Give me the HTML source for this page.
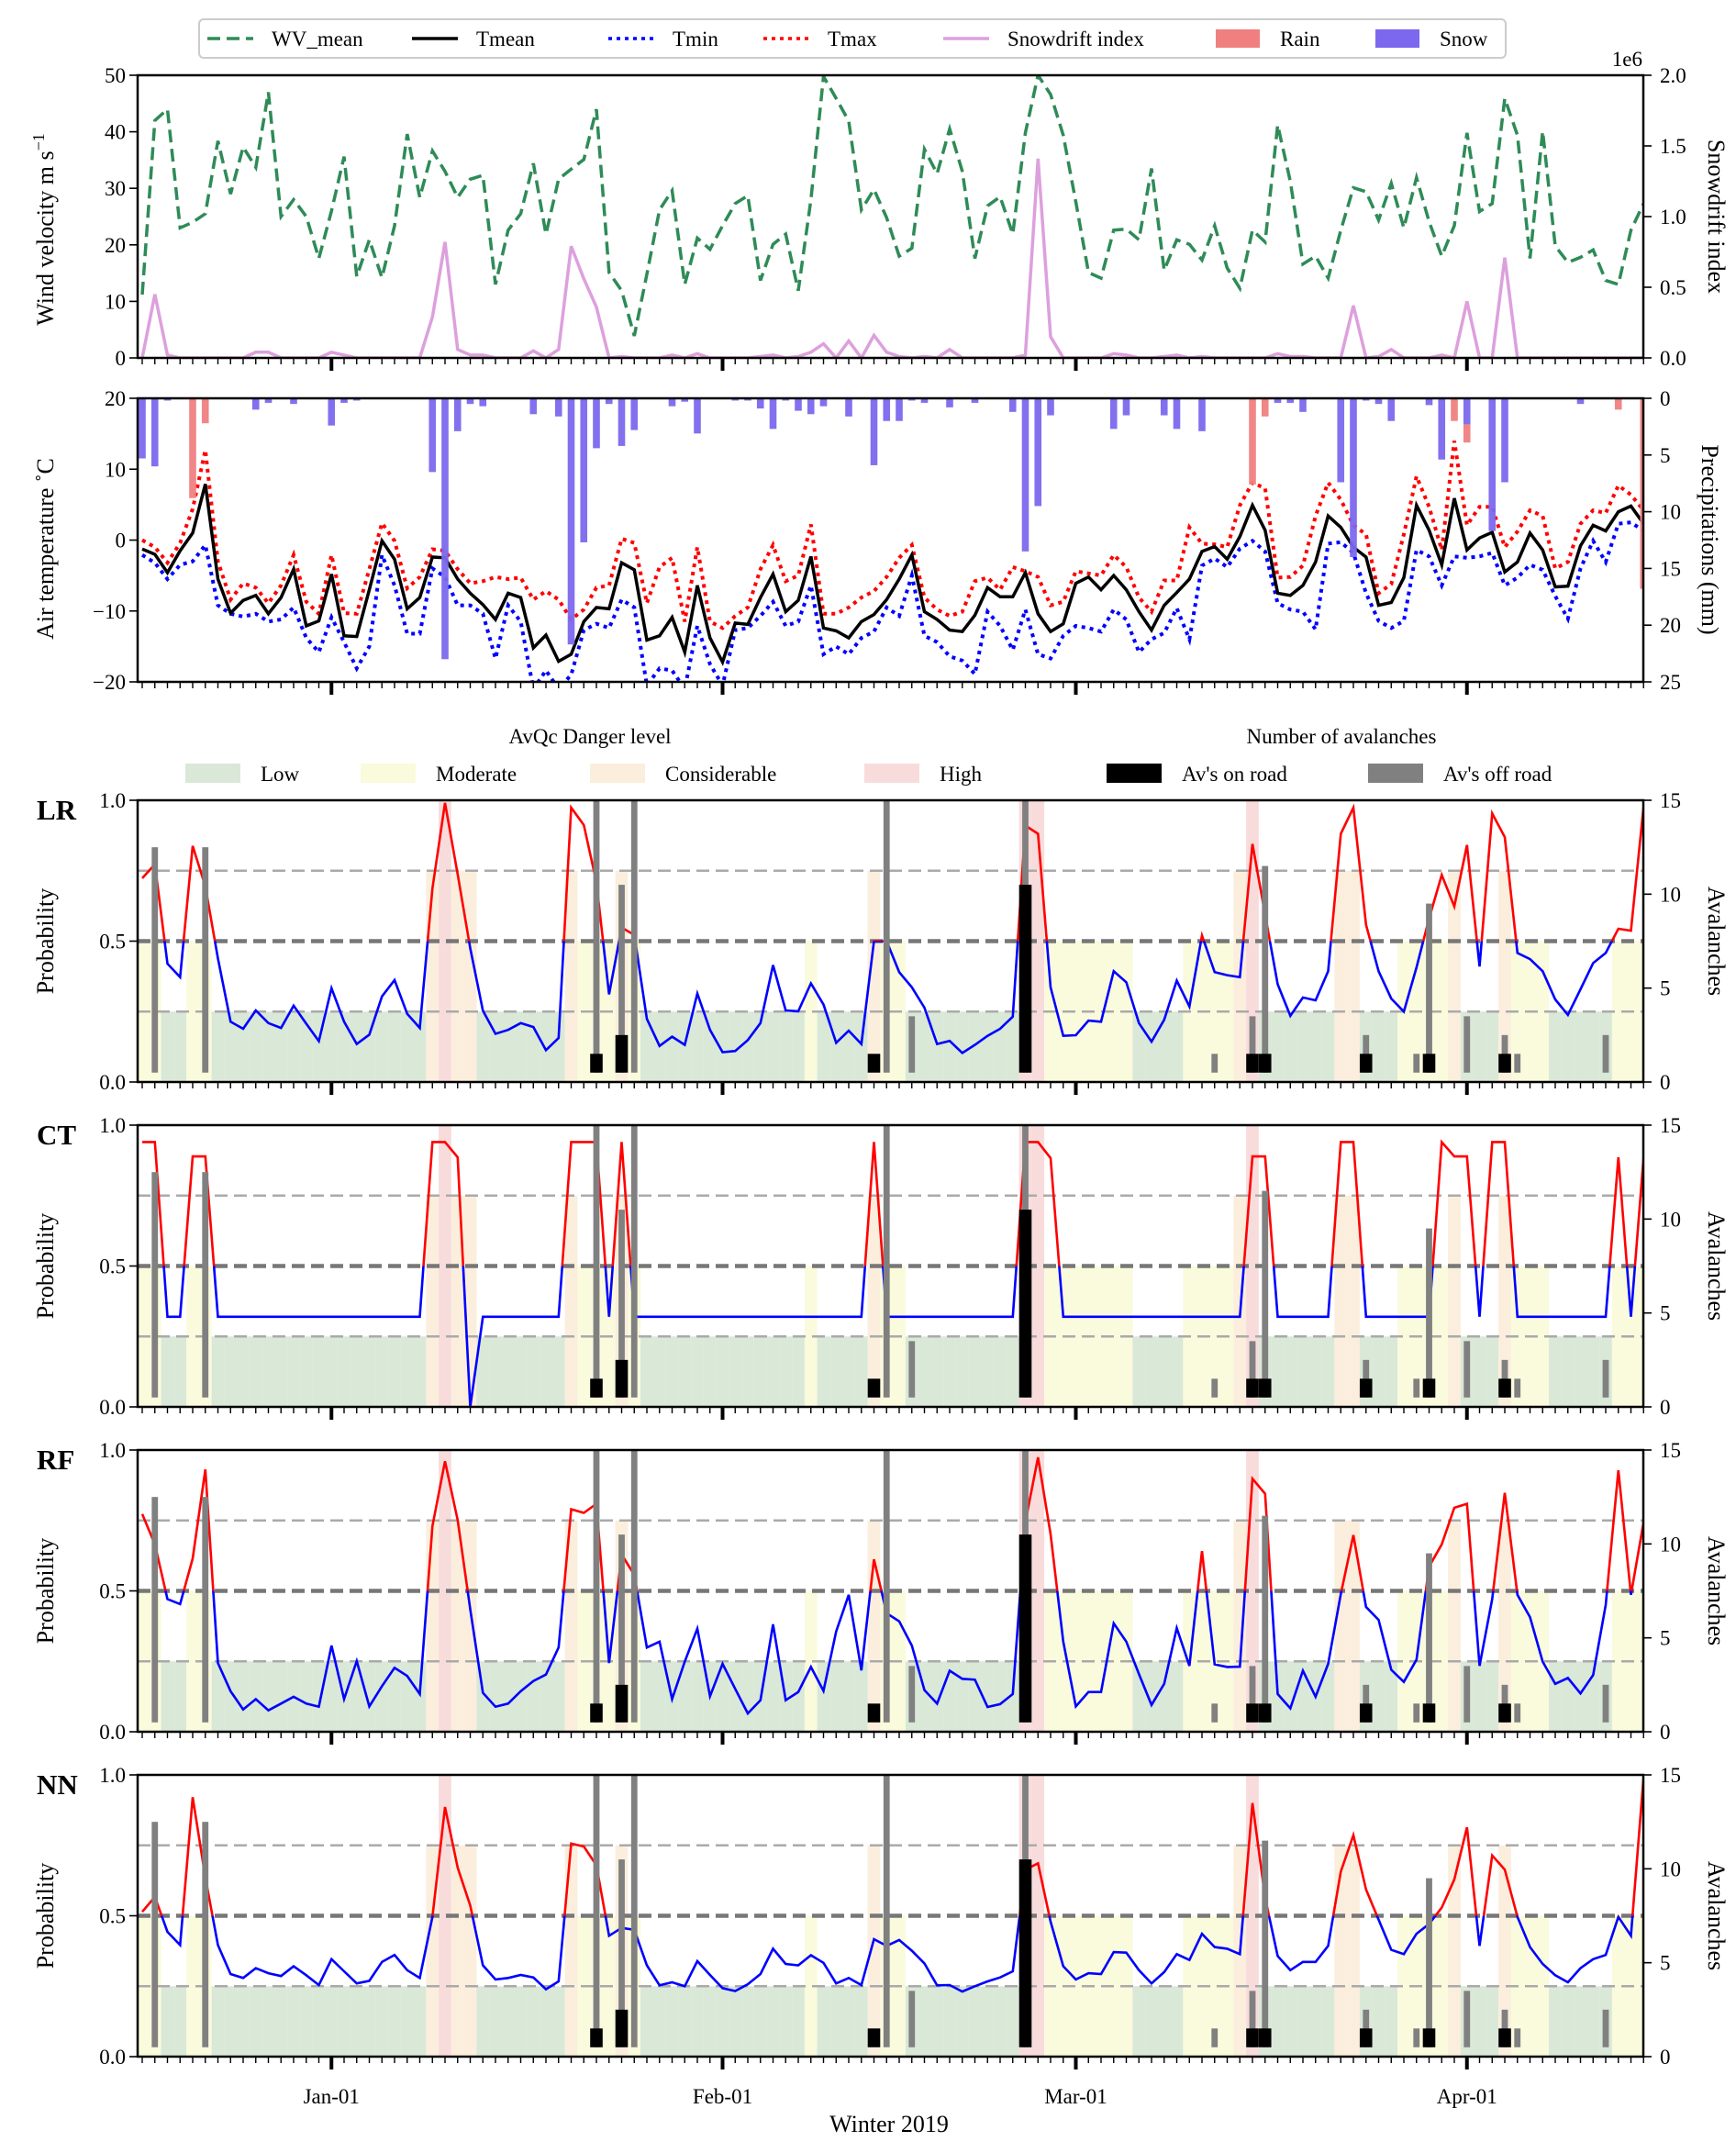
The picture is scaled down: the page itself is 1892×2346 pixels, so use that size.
<!DOCTYPE html>
<html><head><meta charset="utf-8"><title>Winter 2019 weather and avalanche probability chart</title>
<style>
html,body{margin:0;padding:0;background:#fff;}
svg{display:block;font-family:"Liberation Serif",serif;}
</style></head>
<body>
<svg id="fig" width="1892" height="2346" viewBox="0 0 1892 2346" xmlns="http://www.w3.org/2000/svg"></svg>
<script>
// ---------- DATA (one value per day, day 0 = Dec 17) ----------
const monthLabels = ["Jan-01","Feb-01","Mar-01","Apr-01"];
const monthDays = [15,46,74,105];
const wvMean = [11.2,42,44,23,24,25.5,38.4,29,37.3,33.7,47,25,28,25,17.6,26,35.6,14.4,20.9,14.2,23.4,39.6,28.4,36.6,33,28.4,31.6,32.3,13,22.6,25.5,34.4,21.9,31.6,33.4,35.1,44,15.1,11.9,3.9,14.8,26.2,29.6,13,21.2,19.2,23.4,27.3,28.7,13.7,20.1,21.9,11.9,28,49.8,45.9,41.9,26.2,29.8,24.8,18,19.4,36.9,32.6,40.5,33,17.6,26.9,28.5,21.9,39.8,50,46.6,39.4,27.6,15.1,14.1,22.6,22.8,20.9,33.5,15.5,20.9,20.1,17.3,23.4,15.9,12.3,22.6,20.5,41.2,31.2,16.6,18,14.1,22.6,30.1,29.4,24.4,30.9,23,31.9,24.1,18,23.4,39.8,25.9,27.3,45.9,39.4,17.6,40.1,19.8,16.9,17.8,19.1,13.7,13,22.6,27.3];
const snowdrift = [0,0.45,0.02,0,0,0,0,0,0,0.04,0.04,0,0,0,0,0.04,0.02,0,0,0,0,0,0,0.29,0.82,0.06,0.02,0.02,0,0,0,0.05,0,0.06,0.79,0.56,0.36,0,0.01,0,0,0,0.02,0,0.03,0,0,0,0,0.01,0.02,0,0.01,0.04,0.1,0,0.12,0,0.16,0.04,0.01,0,0.01,0,0.06,0,0,0,0,0,0.02,1.41,0.15,0,0,0,0,0.03,0.02,0,0,0.01,0.02,0,0.01,0,0,0,0,0,0.03,0.01,0.01,0,0,0,0.37,0,0.01,0.06,0,0,0,0.02,0,0.4,0,0,0.71,0,0,0,0,0,0,0,0,0,0,0];
const tMean = [-1.25,-2,-4.6,-1.5,1,7.9,-5.5,-10.3,-8.5,-7.8,-10.4,-8.1,-4.1,-12.1,-11.4,-4.8,-13.5,-13.6,-7,-0.1,-2.7,-9.7,-8.1,-2.4,-2.5,-5.5,-7.5,-9.1,-11.2,-7.5,-8.1,-15.2,-13.4,-17.1,-16.1,-11.5,-9.5,-9.7,-3.2,-4.2,-14.1,-13.5,-10.9,-15.8,-6.4,-13.8,-17.2,-11.7,-11.9,-8.1,-4.8,-10.1,-8.5,-2.3,-12.4,-12.8,-13.8,-11.5,-10.5,-8.4,-5.5,-2.1,-10.1,-11.2,-12.7,-12.9,-10.6,-6.7,-8,-8,-4.6,-10.4,-12.9,-11.8,-6.1,-5.2,-7,-5,-7,-10.1,-12.7,-9.2,-7.4,-5.5,-1.6,-0.9,-2.7,0.5,4.9,1.4,-7.5,-7.8,-6.4,-3.1,3.4,1.8,-1,-2.4,-9.2,-8.8,-5.3,4.9,1.4,-3.5,5.9,-1.4,0.3,1.1,-4.5,-3.1,1,-1.4,-6.6,-6.5,-0.8,2.1,1.3,4,4.8,2.3];
const tMax = [0,-1,-3.2,-0.4,4.4,12.7,-3,-8.4,-6.1,-6.7,-8.9,-6.4,-2.1,-8.7,-10.4,-2.1,-10.3,-10.4,-4.1,2.4,-0.1,-6.8,-5.2,-1.3,-1.5,-4.1,-6.1,-5.8,-5.2,-5.5,-5.3,-8.4,-7.2,-8.4,-11.2,-9.8,-6.7,-6.4,0.2,-0.4,-8.9,-3.8,-2.5,-11.5,-1,-11.5,-12.4,-10.7,-9.5,-4.1,-0.7,-5.8,-5,2.2,-10.4,-10.4,-9.5,-8.1,-7.2,-5.2,-2.5,-0.7,-8.1,-9.8,-10.7,-10.1,-5.8,-5.3,-7,-3.8,-4.4,-5.2,-9.2,-8.7,-4.4,-4.7,-5,-2.1,-3.8,-8.1,-10.1,-5.7,-5.7,1.8,-0.5,-0.6,-1,4.9,8.1,7.3,-5.3,-5.2,-3.6,3.4,8.1,5.7,2.1,0.8,-7.5,-6.2,0.8,9,4.7,-1.4,14,2.1,4.7,4.7,-1,1.2,4.2,3.4,-4,-3.1,2.3,4.2,3.8,7.7,6.4,4.2];
const tMin = [-2.1,-3.2,-5.5,-3.5,-3,-0.7,-9.2,-10.4,-10.8,-10.4,-11.5,-11.2,-9.5,-13.8,-15.8,-10.9,-14.4,-18.1,-15,-2.1,-6.4,-13.2,-13.2,-4,-5.2,-9.2,-9.2,-10.4,-16.7,-9.2,-11.5,-21,-18.4,-21,-19,-12.7,-11.8,-12.4,-8.4,-9.5,-20.5,-18.1,-18.4,-21,-12.1,-17.5,-20.5,-12.7,-12.4,-10.7,-8.7,-12.1,-11.5,-6.4,-16.1,-15,-16.1,-13.8,-12.9,-9.5,-10.7,-5,-13.5,-14.4,-16.4,-17,-18.9,-10.1,-12.1,-15.5,-9.8,-16.1,-16.7,-13.5,-12.1,-12.4,-12.9,-9.8,-11.2,-15.8,-14,-13.1,-9.6,-14,-3.6,-2.6,-3.8,-1.2,-0.1,-1.6,-8.9,-9.8,-10.1,-12.6,-0.5,-0.3,-1.8,-7.5,-11.4,-12.4,-11.4,-1.4,-2.3,-6.4,-2.3,-2.5,-2.3,-1.8,-6.4,-5.3,-3.5,-4.2,-7.9,-11.1,-4,-0.1,-3.1,2.3,2.5,1.3];
const snowDays = [0,1,2,9,10,12,15,16,17,23,24,25,26,27,31,33,34,35,36,37,38,39,42,43,44,47,48,49,50,51,52,53,54,56,58,59,60,61,62,64,66,69,70,71,72,77,78,81,82,84,90,91,92,95,96,97,98,99,102,103,105,107,108,114];
const snowMm = [5.3,6,0.2,1,0.4,0.5,2.4,0.4,0.2,6.5,23,2.9,0.5,0.7,1.4,1.6,21.7,12.7,4.4,0.5,4.2,2.8,0.7,0.3,3.1,0.2,0.2,0.9,2.7,0.2,1.1,1.4,0.7,1.6,5.9,2,2,0.2,0.4,0.8,0.4,1.2,13.5,9.5,1.5,2.7,1.5,1.5,2.7,2.9,0.4,0.4,1.2,7.4,14,0.2,0.5,2,0.6,5.4,2.3,11.7,7.4,0.5];
const rainDays = [4,5,88,89,104,105,117,119];
const rainMm = [8.8,2.2,7.6,1.6,2,1.6,1,16.8];
// Danger level per day: 1 Low, 2 Moderate, 3 Considerable, 4 High
const dangerLevel = [2,2,1,1,2,2,1,1,1,1,1,1,1,1,1,1,1,1,1,1,1,1,1,3,4,3,3,1,1,1,1,1,1,1,3,2,2,2,3,2,1,1,1,1,1,1,1,1,1,1,1,1,1,2,1,1,1,1,3,2,2,1,1,1,1,1,1,1,1,1,4,4,2,2,2,2,2,2,2,1,1,1,1,2,2,2,2,3,4,1,1,1,1,1,1,3,3,1,1,1,2,2,2,2,3,1,1,1,3,2,2,2,1,1,1,1,1,2,2,2];
const offRoadDays = [1,5,36,38,39,59,61,70,85,88,89,97,101,102,105,108,109,116];
const offRoadCounts = [12,12,20,10,20,20,3,20,1,3,11,2,1,9,3,2,1,2];
const onRoadDays = [36,38,58,70,88,89,97,102,108];
const onRoadCounts = [1,2,1,10,1,1,1,1,1];
const probLR = [0.723,0.773,0.42,0.372,0.838,0.694,0.439,0.214,0.189,0.254,0.209,0.192,0.271,0.207,0.145,0.333,0.214,0.135,0.168,0.304,0.362,0.242,0.192,0.687,0.991,0.737,0.475,0.253,0.171,0.185,0.209,0.195,0.113,0.156,0.974,0.912,0.709,0.311,0.548,0.522,0.224,0.128,0.161,0.132,0.314,0.185,0.106,0.11,0.149,0.209,0.415,0.254,0.251,0.35,0.275,0.139,0.182,0.135,0.5,0.5,0.39,0.336,0.264,0.135,0.146,0.103,0.132,0.164,0.189,0.232,0.91,0.881,0.336,0.164,0.166,0.218,0.214,0.393,0.354,0.209,0.143,0.221,0.36,0.268,0.52,0.39,0.379,0.372,0.845,0.594,0.347,0.235,0.3,0.29,0.393,0.881,0.974,0.558,0.393,0.296,0.25,0.407,0.58,0.735,0.623,0.841,0.41,0.953,0.869,0.458,0.436,0.393,0.293,0.238,0.329,0.422,0.458,0.544,0.537,0.978];
const probCT = [0.94,0.94,0.32,0.32,0.889,0.889,0.32,0.32,0.32,0.32,0.32,0.32,0.32,0.32,0.32,0.32,0.32,0.32,0.32,0.32,0.32,0.32,0.32,0.94,0.94,0.886,0,0.32,0.32,0.32,0.32,0.32,0.32,0.32,0.94,0.94,0.94,0.32,0.94,0.32,0.32,0.32,0.32,0.32,0.32,0.32,0.32,0.32,0.32,0.32,0.32,0.32,0.32,0.32,0.32,0.32,0.32,0.32,0.94,0.32,0.32,0.32,0.32,0.32,0.32,0.32,0.32,0.32,0.32,0.32,0.94,0.94,0.883,0.32,0.32,0.32,0.32,0.32,0.32,0.32,0.32,0.32,0.32,0.32,0.32,0.32,0.32,0.32,0.889,0.889,0.32,0.32,0.32,0.32,0.32,0.94,0.94,0.32,0.32,0.32,0.32,0.32,0.32,0.94,0.889,0.889,0.32,0.94,0.94,0.32,0.32,0.32,0.32,0.32,0.32,0.32,0.32,0.886,0.32,0.886];
const probRF = [0.773,0.665,0.471,0.453,0.615,0.931,0.244,0.144,0.079,0.116,0.076,0.1,0.124,0.1,0.089,0.306,0.116,0.251,0.09,0.162,0.227,0.198,0.134,0.73,0.96,0.751,0.435,0.138,0.089,0.1,0.144,0.18,0.203,0.299,0.79,0.777,0.809,0.244,0.629,0.557,0.299,0.32,0.116,0.249,0.366,0.126,0.241,0.152,0.065,0.112,0.381,0.112,0.141,0.23,0.145,0.356,0.486,0.218,0.612,0.421,0.392,0.306,0.148,0.1,0.217,0.188,0.185,0.088,0.098,0.134,0.744,0.974,0.701,0.32,0.09,0.141,0.141,0.385,0.32,0.205,0.095,0.17,0.368,0.234,0.641,0.239,0.23,0.231,0.898,0.845,0.134,0.083,0.217,0.124,0.241,0.489,0.698,0.443,0.397,0.22,0.177,0.256,0.586,0.665,0.795,0.809,0.234,0.471,0.848,0.486,0.407,0.249,0.17,0.191,0.136,0.201,0.45,0.928,0.486,0.744];
const probNN = [0.514,0.567,0.443,0.396,0.921,0.636,0.396,0.293,0.279,0.314,0.296,0.286,0.321,0.289,0.254,0.346,0.303,0.26,0.269,0.336,0.361,0.307,0.279,0.496,0.886,0.671,0.536,0.324,0.274,0.279,0.29,0.281,0.239,0.267,0.756,0.746,0.679,0.429,0.457,0.45,0.324,0.253,0.264,0.25,0.339,0.29,0.243,0.233,0.257,0.293,0.383,0.329,0.324,0.36,0.333,0.26,0.279,0.254,0.417,0.393,0.414,0.376,0.331,0.253,0.254,0.231,0.25,0.267,0.281,0.303,0.664,0.686,0.479,0.321,0.274,0.296,0.293,0.371,0.369,0.307,0.26,0.3,0.364,0.343,0.436,0.389,0.383,0.364,0.9,0.564,0.357,0.307,0.336,0.336,0.393,0.657,0.786,0.593,0.486,0.379,0.364,0.436,0.471,0.529,0.629,0.814,0.393,0.714,0.664,0.496,0.389,0.329,0.289,0.264,0.314,0.346,0.361,0.496,0.429,0.993];
const wvTicks = [0,10,20,30,40,50];
const sdTicks = ["0.0","0.5","1.0","1.5","2.0"];
const tempTicks = [-20,-10,0,10,20];
const precipTicks = [0,5,10,15,20,25];
const probTicks = ["0.0","0.5","1.0"];
const avTicks = [0,5,10,15];

// ---------- LAYOUT ----------
const NS = "http://www.w3.org/2000/svg";
const svg = document.getElementById('fig');
const X0 = 150, X1 = 1791, NDAYS = 120;
function xs(d){ return 155 + 13.75*d; }
function mk(tag, attrs, parent){
  const e = document.createElementNS(NS, tag);
  for (const k in attrs) e.setAttribute(k, attrs[k]);
  (parent||svg).appendChild(e);
  return e;
}
function txt(str, attrs, parent){
  const e = mk('text', attrs, parent);
  e.textContent = str;
  return e;
}
const defs = mk('defs', {});
function clipRect(id, x, y, w, h){
  const c = mk('clipPath', {id:id}, defs);
  mk('rect', {x:x, y:y, width:w, height:h}, c);
}
function linY(v0, v1, p0, p1){ return v => p0 + (v - v0) * (p1 - p0) / (v1 - v0); }

function axesFrame(g, top, bot, name){
  const r = mk('rect', {x:X0, y:top, width:X1-X0, height:bot-top, fill:'none', stroke:'#000', 'stroke-width':2.5}, g);
  
  
  const tg = mk('g', {}, g);
  
  
  for (let d = 0; d < NDAYS; d++){
    const major = monthDays.indexOf(d) >= 0;
    mk('line', {x1:xs(d), x2:xs(d), y1:bot, y2:bot + (major?14:7), stroke:'#000', 'stroke-width': major?4:1.4}, tg);
  }
}
function leftTicks(g, ticks, sy, name){
  const tg = mk('g', {}, g);
  
  
  ticks.forEach(t => {
    const y = sy(parseFloat(t));
    mk('line', {x1:X0-9, x2:X0, y1:y, y2:y, stroke:'#000', 'stroke-width':1.6}, tg);
    txt(String(t).replace('-', '\u2212'), {x:X0-13, y:y+8, 'font-size':23, 'text-anchor':'end', fill:'#000'}, tg);
  });
}
function rightTicks(g, ticks, sy, name){
  const tg = mk('g', {}, g);
  
  
  ticks.forEach(t => {
    const y = sy(parseFloat(t));
    mk('line', {x1:X1, x2:X1+9, y1:y, y2:y, stroke:'#000', 'stroke-width':1.6}, tg);
    txt(String(t), {x:X1+18, y:y+8, 'font-size':23, 'text-anchor':'start', fill:'#000'}, tg);
  });
}
function vTitle(g, str, x, y, rot, name){
  const t = txt(str, {x:x, y:y, 'font-size':26, 'text-anchor':'middle', transform:'rotate(' + rot + ' ' + x + ' ' + y + ')'}, g);
  
  
  return t;
}
function polyPts(arr, sy){ return arr.map((v,i) => xs(i).toFixed(1) + ',' + sy(v).toFixed(1)).join(' '); }

// ---------- LEGEND 1 ----------
const leg1 = mk('g', {});


mk('rect', {x:217, y:21, width:1424, height:42, rx:5, fill:'#fff', stroke:'#ccc', 'stroke-width':2}, leg1);
const leg1Items = [
  {label:'WV_mean', kind:'line', x:226, color:'#2e8b57', dash:'14,7', name:'legend-wv-mean'},
  {label:'Tmean', kind:'line', x:449, color:'#000', dash:'', name:'legend-tmean'},
  {label:'Tmin', kind:'line', x:663, color:'#0000ff', dash:'4,5', name:'legend-tmin'},
  {label:'Tmax', kind:'line', x:832, color:'#ff0000', dash:'4,5', name:'legend-tmax'},
  {label:'Snowdrift index', kind:'line', x:1028, color:'#dda0dd', dash:'', name:'legend-snowdrift'},
  {label:'Rain', kind:'patch', x:1325, color:'#f08080', name:'legend-rain'},
  {label:'Snow', kind:'patch', x:1499, color:'#7b68ee', name:'legend-snow'}
];
leg1Items.forEach(it => {
  const g = mk('g', {}, leg1);
  
  
  if (it.kind === 'line') mk('line', {x1:it.x, x2:it.x+50, y1:42, y2:42, stroke:it.color, 'stroke-width':3.5, 'stroke-dasharray':it.dash}, g);
  else mk('rect', {x:it.x, y:32, width:48, height:20, fill:it.color}, g);
  txt(it.label, {x:it.x + 70, y:50, 'font-size':23}, g);
});

// ---------- PANEL 1: wind / snowdrift ----------
(function(){
  const top = 82, bot = 390;
  const g = mk('g', {});
  
  
  clipRect('c1', X0, top, X1-X0, bot-top);
  const sy = linY(0, 50, bot, top);
  const sy2 = linY(0, 2, bot, top);
  const sd = mk('polyline', {points:polyPts(snowdrift, sy2), fill:'none', stroke:'#dda0dd', 'stroke-width':3.5, 'clip-path':'url(#c1)'}, g);
  
  
  const wv = mk('polyline', {points:polyPts(wvMean, sy), fill:'none', stroke:'#2e8b57', 'stroke-width':3.5, 'stroke-dasharray':'14,7', 'clip-path':'url(#c1)'}, g);
  
  
  axesFrame(g, top, bot, 'wind-panel');
  leftTicks(g, wvTicks, sy, 'wind-y-ticks');
  rightTicks(g, sdTicks, sy2, 'snowdrift-y-ticks');
  const t = vTitle(g, '', 58, 250, -90, 'wind-y-title');
  t.textContent = 'Wind velocity m s';
  const sup = mk('tspan', {dy:-10, 'font-size':18}, t); sup.textContent = '\u22121';
  vTitle(g, 'Snowdrift index', 1862, 236, 90, 'snowdrift-y-title');
  const e6 = txt('1e6', {x:1790, y:72, 'font-size':23, 'text-anchor':'end'}, g);
  
  
})();

// ---------- PANEL 2: temperature / precipitation ----------
(function(){
  const top = 434, bot = 743;
  const g = mk('g', {});
  
  
  clipRect('c2', X0, top, X1-X0, bot-top);
  const sy = linY(-20, 20, bot, top);
  const sp = linY(0, 25, top, bot);
  const lines = [
    {arr:tMin, color:'#0000ff', dash:'4,5', w:4, name:'tmin-line'},
    {arr:tMax, color:'#ff0000', dash:'4,5', w:4, name:'tmax-line'},
    {arr:tMean, color:'#000', dash:'', w:3.5, name:'tmean-line'}
  ];
  lines.forEach(L => {
    const p = mk('polyline', {points:polyPts(L.arr, sy), fill:'none', stroke:L.color, 'stroke-width':L.w, 'stroke-dasharray':L.dash, 'clip-path':'url(#c2)'}, g);
    
    
  });
  const bg = mk('g', {'clip-path':'url(#c2)'}, g);
  
  
  const snowTop = {};
  snowDays.forEach((d,i) => {
    snowTop[d] = snowMm[i];
    const r = mk('rect', {x:xs(d)-3.8, y:sp(0), width:7.6, height:sp(snowMm[i]) - sp(0), fill:'#7b68ee', opacity:0.95}, bg);
    
    
  });
  rainDays.forEach((d,i) => {
    const base = snowTop[d] || 0;
    const r = mk('rect', {x:xs(d)-3.8, y:sp(base), width:7.6, height:sp(base + rainMm[i]) - sp(base), fill:'#f08080', opacity:0.95}, bg);
    
    
  });
  axesFrame(g, top, bot, 'temperature-panel');
  leftTicks(g, tempTicks, sy, 'temperature-y-ticks');
  rightTicks(g, precipTicks, sp, 'precipitation-y-ticks');
  vTitle(g, 'Air temperature \u02DAC', 58, 598, -90, 'temperature-y-title');
  vTitle(g, 'Precipitations (mm)', 1855, 588, 90, 'precipitation-y-title');
})();

// ---------- LEGEND 2 ----------
(function(){
  const g = mk('g', {});
  
  
  const h1 = txt('AvQc Danger level', {x:643, y:810, 'font-size':23, 'text-anchor':'middle'}, g);
  
  
  const h2 = txt('Number of avalanches', {x:1462, y:810, 'font-size':23, 'text-anchor':'middle'}, g);
  
  
  const items = [
    {label:'Low', x:202, color:'#d9e8d7', name:'legend-low'},
    {label:'Moderate', x:393, color:'#fafadc', name:'legend-moderate'},
    {label:'Considerable', x:643, color:'#fbeedd', name:'legend-considerable'},
    {label:'High', x:942, color:'#f8dcdc', name:'legend-high'},
    {label:"Av's on road", x:1206, color:'#000', name:'legend-on-road'},
    {label:"Av's off road", x:1491, color:'#808080', name:'legend-off-road'}
  ];
  items.forEach(it => {
    const e = mk('g', {}, g);
    
    
    mk('rect', {x:it.x, y:832, width:60, height:21, fill:it.color}, e);
    txt(it.label, {x:it.x+82, y:851, 'font-size':23}, e);
  });
})();

// ---------- PROBABILITY PANELS ----------
const dangerColors = [null,'#d9e8d7','#fafadc','#fbeedd','#f8dcdc'];
const dangerTop = [0,0.25,0.5,0.75,1.0];
const panels = [
  {label:'LR', top:872, bot:1179, prob:probLR},
  {label:'CT', top:1226, bot:1533, prob:probCT},
  {label:'RF', top:1580, bot:1887, prob:probRF},
  {label:'NN', top:1934, bot:2241, prob:probNN}
];
panels.forEach((P, pi) => {
  const id = P.label.toLowerCase();
  const g = mk('g', {});
  
  
  const sy = linY(0, 1, P.bot, P.top);
  const sa = linY(0, 15, P.bot, P.top);
  clipRect('cp' + pi, X0, P.top, X1-X0, P.bot-P.top);
  clipRect('cpr' + pi, X0, P.top, X1-X0, sy(0.5)-P.top);
  clipRect('cpb' + pi, X0, sy(0.5), X1-X0, P.bot-sy(0.5));
  const bgG = mk('g', {'clip-path':'url(#cp' + pi + ')'}, g);
  
  
  dangerLevel.forEach((lv, d) => {
    if (!lv) return;
    const r = mk('rect', {x:xs(d)-6.9, y:sy(dangerTop[lv]), width:13.8, height:sy(0)-sy(dangerTop[lv]), fill:dangerColors[lv]}, bgG);
    
    
  });
  [[0.25,'#aaaaaa',2.5],[0.75,'#aaaaaa',2.5],[0.5,'#777777',4.5]].forEach(h => {
    const l = mk('line', {x1:X0, x2:X1, y1:sy(h[0]), y2:sy(h[0]), stroke:h[1], 'stroke-width':h[2], 'stroke-dasharray':'14,7'}, g);
    
    
  });
  const pts = polyPts(P.prob, sy);
  const blue = mk('polyline', {points:pts, fill:'none', stroke:'#0000ff', 'stroke-width':2.6, 'clip-path':'url(#cpb' + pi + ')'}, g);
  
  
  const red = mk('polyline', {points:pts, fill:'none', stroke:'#ff0000', 'stroke-width':2.6, 'clip-path':'url(#cpr' + pi + ')'}, g);
  
  
  const avG = mk('g', {'clip-path':'url(#cp' + pi + ')'}, g);
  
  
  offRoadDays.forEach((d,i) => {
    const r = mk('rect', {x:xs(d)-3.4, y:sa(offRoadCounts[i]+0.5), width:6.8, height:sa(0.5)-sa(offRoadCounts[i]+0.5), fill:'#808080'}, avG);
    
    
  });
  onRoadDays.forEach((d,i) => {
    const r = mk('rect', {x:xs(d)-6.8, y:sa(onRoadCounts[i]+0.5), width:13.6, height:sa(0.5)-sa(onRoadCounts[i]+0.5), fill:'#000'}, avG);
    
    
  });
  axesFrame(g, P.top, P.bot, id + '-panel');
  leftTicks(g, probTicks, sy, id + '-probability-ticks');
  rightTicks(g, avTicks, sa, id + '-avalanche-ticks');
  vTitle(g, 'Probability', 58, (P.top+P.bot)/2, -90, id + '-probability-title');
  vTitle(g, 'Avalanches', 1862, (P.top+P.bot)/2, 90, id + '-avalanche-title');
  const lab = txt(P.label, {x:40, y:P.top+21, 'font-size':31, 'font-weight':'bold'}, g);
  
  
});

// ---------- X AXIS LABELS ----------
(function(){
  const g = mk('g', {});
  
  
  monthLabels.forEach((m,i) => {
    const t = txt(m, {x:xs(monthDays[i]), y:2292, 'font-size':23, 'text-anchor':'middle'}, g);
    
    
  });
  const t = txt('Winter 2019', {x:969, y:2323, 'font-size':26, 'text-anchor':'middle'}, g);
  
  
})();
</script>
</body></html>
